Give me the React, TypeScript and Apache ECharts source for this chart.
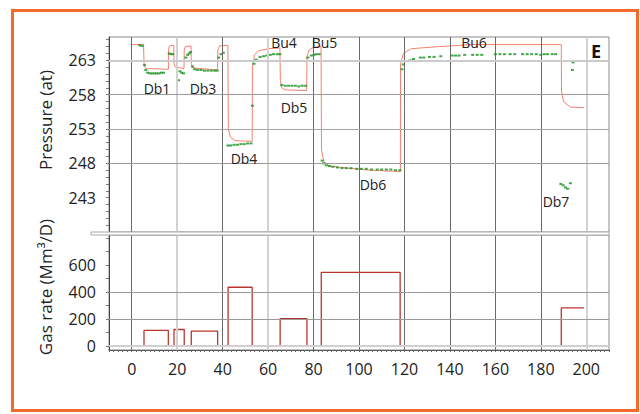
import React, { useEffect, useRef } from "react";
import * as echarts from "echarts";

const FONT = "'Open Sans', 'Noto Sans', sans-serif";

// tick labels
const xTicks = [0, 20, 40, 60, 80, 100, 120, 140, 160, 180, 200];
const pressureTicks = [243, 248, 253, 258, 263];
const gasTicks = [0, 200, 400, 600];

// model pressure (red line): time, pressure (at)
const modelT = [
  0, 5.2, 5.4, 5.8, 6.5, 16.1, 16.2, 16.6, 18.5, 18.6, 19.2, 23.0, 23.1, 23.6, 26.1, 26.2, 27.0, 37.8,
  37.9, 38.6, 42.3, 42.5, 43.5, 45.5, 53.0, 53.1, 54.0, 56.0, 60.0, 65.2, 65.4, 66.0, 67.5, 77.0,
  77.1, 78.0, 80.0, 83.3, 83.5, 84.5, 87.0, 95.0, 105.0, 118.2, 118.3, 119.5, 123.0, 135.0, 150.0,
  189.0, 189.1, 190.0, 193.0, 199.0,
];
const modelP = [
  265.3, 265.3, 262.6, 262.0, 261.8, 261.7, 264.6, 265.1, 265.2, 262.5, 262.0, 261.8, 264.5, 265.0, 265.1, 262.5, 261.9, 261.6,
  264.5, 265.1, 265.2, 253.0, 251.8, 251.3, 251.2, 262.0, 263.8, 264.4, 264.7, 264.8, 260.0, 259.0, 258.7, 258.6,
  263.5, 264.5, 264.9, 265.0, 250.0, 248.3, 247.6, 247.3, 247.0, 246.8, 262.5, 264.0, 264.7, 265.0, 265.3,
  265.3, 258.5, 257.0, 256.2, 256.1,
];

// measured pressure (green dots)
const measT = [
  3.5, 4.5,
  5.6, 6.2, 7.0, 8.0, 9.0, 10.0, 11.0, 12.0, 13.0, 14.0,
  16.5, 17.2, 18.0,
  20.6, 21.2, 22.0, 22.8,
  23.8, 24.6, 25.3, 25.9,
  26.7, 27.7, 29.0, 30.5, 32.0, 33.5, 35.0, 36.5, 37.6,
  38.3, 39.3, 40.3,
  42.3, 43.5, 45.0, 46.5, 48.0, 49.5, 51.0, 52.5,
  53.1,
  53.8, 54.7, 56.5, 58.0, 59.4, 61.0, 62.4, 64.0, 65.2,
  66.0, 67.5, 69.0, 70.5, 72.0, 73.5, 75.0, 76.5,
  77.5, 79.0, 80.2, 81.2, 82.5,
  83.8, 84.4, 85.6, 87.0, 88.5, 90.5, 92.5, 94.4, 96.5, 99.0, 101.0, 103.2, 105.5, 108.0, 110.0, 112.0, 114.0, 116.0, 118.0,
  118.9, 119.5, 121.0, 122.5, 124.0, 127.0, 128.5, 131.0, 133.0, 136.0, 141.0, 142.5, 144.0, 146.5, 150.0, 152.0, 154.0,
  160.0, 162.0, 164.0, 166.5, 168.5, 172.0, 174.0, 176.0, 178.0, 180.0, 181.5, 183.0, 185.0, 186.5,
  188.8, 189.8, 190.8, 191.8, 193.0,
  193.9, 194.2,
];
const measP = [
  265.2, 265.1,
  262.3, 261.6, 261.2, 261.1, 261.1, 261.1, 261.1, 261.1, 261.2, 261.2,
  264.0, 263.9, 263.9,
  260.1, 261.4, 261.2, 261.1,
  263.4, 263.8, 264.0, 264.2,
  262.1, 261.7, 261.6, 261.6, 261.5, 261.5, 261.5, 261.5, 261.5,
  263.4, 263.9, 264.1,
  250.6, 250.6, 250.7, 250.7, 250.8, 250.8, 250.9, 250.9,
  256.4,
  262.5, 263.1, 263.5, 263.6, 263.7, 263.8, 263.9, 263.9, 263.9,
  259.4, 259.3, 259.3, 259.3, 259.3, 259.2, 259.3, 259.3,
  263.4, 263.7, 263.8, 263.9, 263.9,
  248.4, 248.0, 247.7, 247.6, 247.5, 247.4, 247.3, 247.3, 247.3, 247.2, 247.2, 247.2, 247.1, 247.1, 247.1, 247.1, 247.1, 247.0, 247.0,
  261.7, 262.4, 262.9, 263.0, 263.2, 263.4, 263.4, 263.5, 263.5, 263.6, 263.7, 263.7, 263.7, 263.8, 263.8, 263.8, 263.8,
  263.9, 263.9, 263.9, 263.9, 263.9, 263.9, 263.9, 263.9, 263.9, 263.8, 263.9, 263.9, 263.9, 263.9,
  245.0, 244.8, 244.5, 244.3, 245.1,
  261.6, 262.7,
];

// gas rate (step line): time, rate (Mm3/D)
const gasT = [0, 5.4, 5.4, 16.1, 16.1, 18.6, 18.6, 23.1, 23.1, 26.2, 26.2, 37.8, 37.8, 42.4, 42.4, 53.0, 53.0, 65.3, 65.3, 77.1, 77.1, 83.4, 83.4, 118.1, 118.1, 189.0, 189.0, 199.0];
const gasQ = [0, 0, 115, 115, 0, 0, 122, 122, 0, 0, 110, 110, 0, 0, 435, 435, 0, 0, 203, 203, 0, 0, 545, 545, 0, 0, 282, 282];

const eventNames = ["Db1", "Db3", "Db4", "Bu4", "Db5", "Bu5", "Db6", "Bu6", "Db7"];
const eventPos: [number, number][] = [
  [157, 88], [203, 88], [244, 158], [284, 42], [294, 107], [324.5, 42], [373, 184], [474, 42], [556, 201],
];

const darkV = [0, 40, 80, 100, 120, 140, 160, 180];
const lightV = [20, 60, 200];

function range(a: number, b: number, s: number) {
  const out: number[] = [];
  for (let v = a; v <= b + 1e-9; v += s) out.push(Math.round(v * 100) / 100);
  return out;
}

function vLines() {
  return [
    ...darkV.map((v) => ({ xAxis: v, lineStyle: { color: "#6b6b6b", width: 1, type: "solid" } })),
    ...lightV.map((v) => ({ xAxis: v, lineStyle: { color: "#d2d2d2", width: 2, type: "solid" } })),
  ];
}

export default function App() {
  const ref = useRef<HTMLDivElement>(null);
  useEffect(() => {
    if (!ref.current) return;
    const chart = echarts.init(ref.current, undefined, { renderer: "svg" });
    const labelStyle = { fontFamily: FONT, fontSize: 16, color: "#222" };
    const option: any = {
      animation: false,
      backgroundColor: "#fff",
      textStyle: { fontFamily: FONT },
      grid: [
        { left: 109, top: 37, width: 500, height: 195, show: true, borderColor: "#8a8a8a", borderWidth: 1, backgroundColor: "#fff" },
        { left: 109, top: 235, width: 500, height: 115, show: true, borderColor: "#8a8a8a", borderWidth: 1, backgroundColor: "#fff" },
      ],
      xAxis: [
        {
          type: "value", gridIndex: 0, min: -10, max: 210,
          axisLine: { show: false }, axisTick: { show: false }, axisLabel: { show: false }, splitLine: { show: false },
        },
        {
          type: "value", gridIndex: 1, min: -10, max: 210,
          axisLine: { show: true, onZero: false, lineStyle: { color: "#555", width: 1 } },
          axisTick: { show: true, customValues: range(-10, 210, 2), length: 2, lineStyle: { color: "#666" } },
          axisLabel: { customValues: xTicks, margin: 11, ...labelStyle },
          splitLine: { show: false },
        },
      ],
      yAxis: [
        {
          type: "value", gridIndex: 0, min: 238, max: 266.4,
          axisLine: { show: true, onZero: false, lineStyle: { color: "#444", width: 1 } },
          axisTick: { show: true, customValues: range(238, 266, 1), length: 3, lineStyle: { color: "#777" } },
          axisLabel: { customValues: pressureTicks, margin: 13, ...labelStyle },
          splitLine: { show: false },
        },
        {
          type: "value", gridIndex: 1, min: -30, max: 822,
          axisLine: { show: true, onZero: false, lineStyle: { color: "#444", width: 1 } },
          axisTick: { show: true, customValues: range(0, 800, 100), length: 3, lineStyle: { color: "#777" } },
          axisLabel: { customValues: gasTicks, margin: 13, ...labelStyle },
          splitLine: { show: false },
        },
      ],
      series: [
        {
          type: "line", xAxisIndex: 0, yAxisIndex: 0, data: [], z: 1, silent: true,
          markLine: {
            silent: true, symbol: ["none", "none"], label: { show: false }, animation: false,
            data: [
              ...vLines(),
              { yAxis: 263, lineStyle: { color: "#cbcbcb", width: 2, type: "solid" } },
              { yAxis: 258, lineStyle: { color: "#9a9a9a", width: 1, type: "solid" } },
              { yAxis: 253, lineStyle: { color: "#a5a5a5", width: 1, type: "solid" } },
              { yAxis: 248, lineStyle: { color: "#9a9a9a", width: 1, type: "solid" } },
            ],
          },
        },
        {
          name: "model", type: "line", xAxisIndex: 0, yAxisIndex: 0, z: 3, showSymbol: false, silent: true,
          data: modelT.map((t, i) => [t, modelP[i]]),
          lineStyle: { color: "#f6806e", width: 1 },
        },
        {
          name: "measured", type: "scatter", xAxisIndex: 0, yAxisIndex: 0, z: 4, silent: true,
          symbol: "rect", symbolSize: [3, 2],
          data: measT.map((t, i) => [t, measP[i]]),
          itemStyle: { color: "#14911e" },
        },
        {
          type: "line", xAxisIndex: 1, yAxisIndex: 1, data: [], z: 1, silent: true,
          markLine: {
            silent: true, symbol: ["none", "none"], label: { show: false }, animation: false,
            data: [
              ...vLines(),
              { yAxis: 0, lineStyle: { color: "#d0d0d0", width: 2, type: "solid" } },
              { yAxis: 200, lineStyle: { color: "#9a9a9a", width: 1, type: "solid" } },
              { yAxis: 400, lineStyle: { color: "#9a9a9a", width: 1, type: "solid" } },
            ],
          },
        },
        {
          name: "gas", type: "line", xAxisIndex: 1, yAxisIndex: 1, z: 3, showSymbol: false, silent: true,
          data: gasT.map((t, i) => [t, gasQ[i]]),
          lineStyle: { color: "#b8362f", width: 1.3 },
        },
      ],
      graphic: [
        {
          type: "rect", z: 100, silent: true,
          shape: { x: 12.5, y: 10.5, width: 625, height: 400 },
          style: { fill: "none", stroke: "#f26b2a", lineWidth: 3 },
        },
        {
          type: "rect", z: 90, silent: true,
          shape: { x: 91, y: 232, width: 518, height: 3 },
          style: { fill: "#fff", stroke: "#a8a8a8", lineWidth: 1 },
        },
        {
          type: "text", z: 100, x: 45, y: 120, rotation: Math.PI / 2,
          style: { text: "Pressure (at)", fontFamily: FONT, fontSize: 17, fill: "#222", align: "center", verticalAlign: "middle" },
        },
        {
          type: "text", z: 100, x: 45, y: 287, rotation: Math.PI / 2,
          style: { text: "Gas rate (Mm³/D)", fontFamily: FONT, fontSize: 17, fill: "#222", align: "center", verticalAlign: "middle" },
        },
        {
          type: "text", z: 100, x: 596, y: 51,
          style: { text: "E", fontFamily: FONT, fontSize: 18, fontWeight: "bold", fill: "#111", align: "center", verticalAlign: "middle" },
        },
        ...eventNames.map((n, i) => ({
          type: "text", z: 100, x: eventPos[i][0], y: eventPos[i][1],
          style: { text: n, fontFamily: FONT, fontSize: 14, fill: "#222", align: "center", verticalAlign: "middle" },
        })),
      ],
    };
    chart.setOption(option);
    return () => chart.dispose();
  }, []);
  return (
    <div
      ref={ref}
      style={{ position: "absolute", left: 0, top: 0, width: 640, height: 414, background: "#fff" }}
    />
  );
}
